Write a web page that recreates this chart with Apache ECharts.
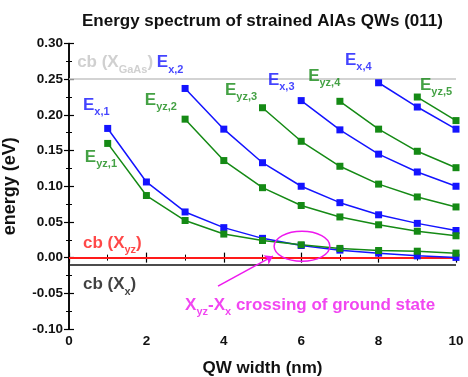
<!DOCTYPE html>
<html>
<head>
<meta charset="utf-8">
<script src="https://cdn.jsdelivr.net/npm/echarts@6/dist/echarts.min.js"></script>
<style>html,body{margin:0;padding:0;background:#fff}#c{width:468px;height:377px}</style>
</head>
<body>
<div id="c"></div>
<script>
// ---- data ----
const widths = [1, 2, 3, 4, 5, 6, 7, 8, 9, 10];
const Ex1  = [0.181, 0.106, 0.064, 0.042, 0.027, 0.017, 0.0105, 0.0063, 0.0025, 0.0003];
const Eyz1 = [0.160, 0.087, 0.052, 0.033, 0.024, 0.018, 0.0129, 0.010, 0.009, 0.0063];
const Ex2  = [null, null, 0.237, 0.180, 0.133, 0.100, 0.077, 0.060, 0.048, 0.038];
const Eyz2 = [null, null, 0.194, 0.136, 0.098, 0.073, 0.057, 0.046, 0.037, 0.0306];
const Eyz3 = [null, null, null, null, 0.210, 0.163, 0.128, 0.103, 0.085, 0.071];
const Ex3  = [null, null, null, null, null, 0.220, 0.179, 0.145, 0.120, 0.100];
const Eyz4 = [null, null, null, null, null, null, 0.219, 0.180, 0.149, 0.126];
const Ex4  = [null, null, null, null, null, null, null, 0.245, 0.211, 0.180];
const Eyz5 = [null, null, null, null, null, null, null, null, 0.225, 0.192];
const cbGaAs = 0.25, cbXyz = -0.002, cbXx = -0.011;
const yTicks = [-0.10, -0.05, 0.00, 0.05, 0.10, 0.15, 0.20, 0.25, 0.30];
const xTicks = [0, 2, 4, 6, 8, 10];
// annotation anchors (data coords, top-left of text)
const annX  = [0.36, 0.41, 2.27, 1.96, 4.03, 5.14, 6.18, 7.13, 9.07, 0.21, 0.36, 0.36, 3.0];
const annY  = [0.226, 0.153, 0.285, 0.233, 0.247, 0.261, 0.266, 0.289, 0.254, 0.285, 0.032, -0.026, -0.055];
const annTxt = ['{b|E}{bs|x,1}', '{g|E}{gs|yz,1}', '{b|E}{bs|x,2}', '{g|E}{gs|yz,2}', '{g|E}{gs|yz,3}',
  '{b|E}{bs|x,3}', '{g|E}{gs|yz,4}', '{b|E}{bs|x,4}', '{g|E}{gs|yz,5}',
  '{gr|cb (X}{grs|GaAs}{gr|)}', '{r|cb (X}{rs|yz}{r|)}', '{k|cb (X}{ks|x}{k|)}',
  '{m|X}{ms|yz}{m|-X}{ms|x}{m| crossing of ground state}'];
const ellipse = [6.02, 0.016, 0.72, 0.021];
const arrow = [[3.85, -0.040], [5.27, 0.002]];

const BLUE = '#1414ff', GREEN = '#158a15', MAG = '#ee18ee', RED = '#ff1a1a', GRAY = '#c4c4c4';
const FONT = 'Liberation Sans, Arial, sans-serif';

function mk(c) {
  return { fontFamily: FONT, fontWeight: 'bold', fontSize: 17, color: c, lineHeight: 20, verticalAlign: 'top' };
}
function sb(c) {
  return { fontFamily: FONT, fontWeight: 'bold', fontSize: 11, color: c, lineHeight: 12, padding: [10, 0, 0, 0], verticalAlign: 'top' };
}
const rich = {
  b: mk(BLUE), bs: sb(BLUE), g: mk(GREEN), gs: sb(GREEN), gr: mk(GRAY), grs: sb(GRAY),
  r: mk(RED), rs: sb(RED), k: mk('#111'), ks: sb('#111'), m: mk(MAG), ms: sb(MAG)
};

function lineSeries(name, vals, color) {
  return {
    name: name, type: 'line', data: widths.map((w, i) => [w, vals[i]]),
    connectNulls: false, symbol: 'rect', symbolSize: 7, showSymbol: true,
    lineStyle: { color: color, width: 1.5 }, itemStyle: { color: color },
    z: 5, silent: true, animation: false
  };
}

const axisCommon = {
  axisLine: { show: true, lineStyle: { color: '#000', width: 1.5 } },
  axisTick: { show: true, inside: true, length: 5, lineStyle: { color: '#000', width: 1.2 } },
  minorTick: { show: true, splitNumber: 2, length: 3, lineStyle: { color: '#000', width: 1 } },
  splitLine: { show: false }
};

const chart = echarts.init(document.getElementById('c'), null, { renderer: 'canvas' });
chart.setOption({
  animation: false,
  backgroundColor: '#fff',
  title: {
    text: 'Energy spectrum of strained AlAs QWs (011)',
    left: 77, top: 8,
    textStyle: { fontFamily: FONT, fontWeight: 'bold', fontSize: 17, color: '#111' }
  },
  grid: { left: 69, right: 12, top: 43.5, bottom: 48, containLabel: false, outerBoundsMode: 'none' },
  xAxis: [
    Object.assign({}, axisCommon, {
      type: 'value', min: xTicks[0], max: xTicks[xTicks.length - 1], interval: 2,
      name: 'QW width (nm)', nameLocation: 'middle', nameGap: 31,
      nameTextStyle: { fontFamily: FONT, fontWeight: 'bold', fontSize: 17, color: '#111' },
      axisLabel: { fontFamily: FONT, fontWeight: 'bold', fontSize: 13.5, color: '#111', margin: 5 }
    }),
    Object.assign({}, axisCommon, {
      type: 'value', position: 'top', min: 0, max: 10, interval: 2, axisLabel: { show: false }
    })
  ],
  yAxis: [
    Object.assign({}, axisCommon, {
      type: 'value', min: yTicks[0], max: yTicks[yTicks.length - 1], interval: 0.05,
      name: 'energy (eV)', nameLocation: 'middle', nameGap: 50,
      nameTextStyle: { fontFamily: FONT, fontWeight: 'bold', fontSize: 18, color: '#111' },
      axisLabel: { fontFamily: FONT, fontWeight: 'bold', fontSize: 13.5, color: '#111', margin: 6,
        formatter: v => v.toFixed(2) }
    }),
    Object.assign({}, axisCommon, {
      type: 'value', position: 'right', min: -0.1, max: 0.3, interval: 0.05, axisLabel: { show: false }
    })
  ],
  series: [
    {
      type: 'line', data: [], silent: true,
      markLine: {
        silent: true, symbol: ['none', 'none'], label: { show: false }, animation: false,
        data: [
          { yAxis: cbGaAs, lineStyle: { color: GRAY, width: 1.5, type: 'solid' } },
          { yAxis: cbXyz, lineStyle: { color: RED, width: 2, type: 'solid' } },
          { yAxis: cbXx, lineStyle: { color: '#111', width: 1.5, type: 'solid' } }
        ]
      }
    },
    lineSeries('Ex1', Ex1, BLUE),
    lineSeries('Eyz1', Eyz1, GREEN),
    lineSeries('Ex2', Ex2, BLUE),
    lineSeries('Eyz2', Eyz2, GREEN),
    lineSeries('Eyz3', Eyz3, GREEN),
    lineSeries('Ex3', Ex3, BLUE),
    lineSeries('Eyz4', Eyz4, GREEN),
    lineSeries('Ex4', Ex4, BLUE),
    lineSeries('Eyz5', Eyz5, GREEN),
    {
      type: 'scatter', silent: true, symbolSize: 0, z: 10,
      data: annX.map((x, i) => ({
        value: [x, annY[i]],
        label: { show: true, position: 'inside', align: 'left', verticalAlign: 'top',
          formatter: annTxt[i], rich: rich }
      }))
    },
    {
      type: 'custom', silent: true, z: 8,
      data: [ellipse],
      renderItem: function (params, api) {
        const c = api.coord([api.value(0), api.value(1)]);
        const s = api.size([api.value(2), api.value(3)]);
        return { type: 'ellipse', shape: { cx: c[0], cy: c[1], rx: s[0], ry: s[1] },
          style: { fill: 'none', stroke: MAG, lineWidth: 1.5 } };
      }
    },
    {
      type: 'line', data: [], silent: true,
      markLine: {
        silent: true, symbol: ['none', 'arrow'], symbolSize: 8, label: { show: false }, animation: false,
        lineStyle: { color: MAG, width: 1.5, type: 'solid' },
        data: [[{ coord: arrow[0] }, { coord: arrow[1] }]]
      }
    }
  ]
});
</script>
</body>
</html>
